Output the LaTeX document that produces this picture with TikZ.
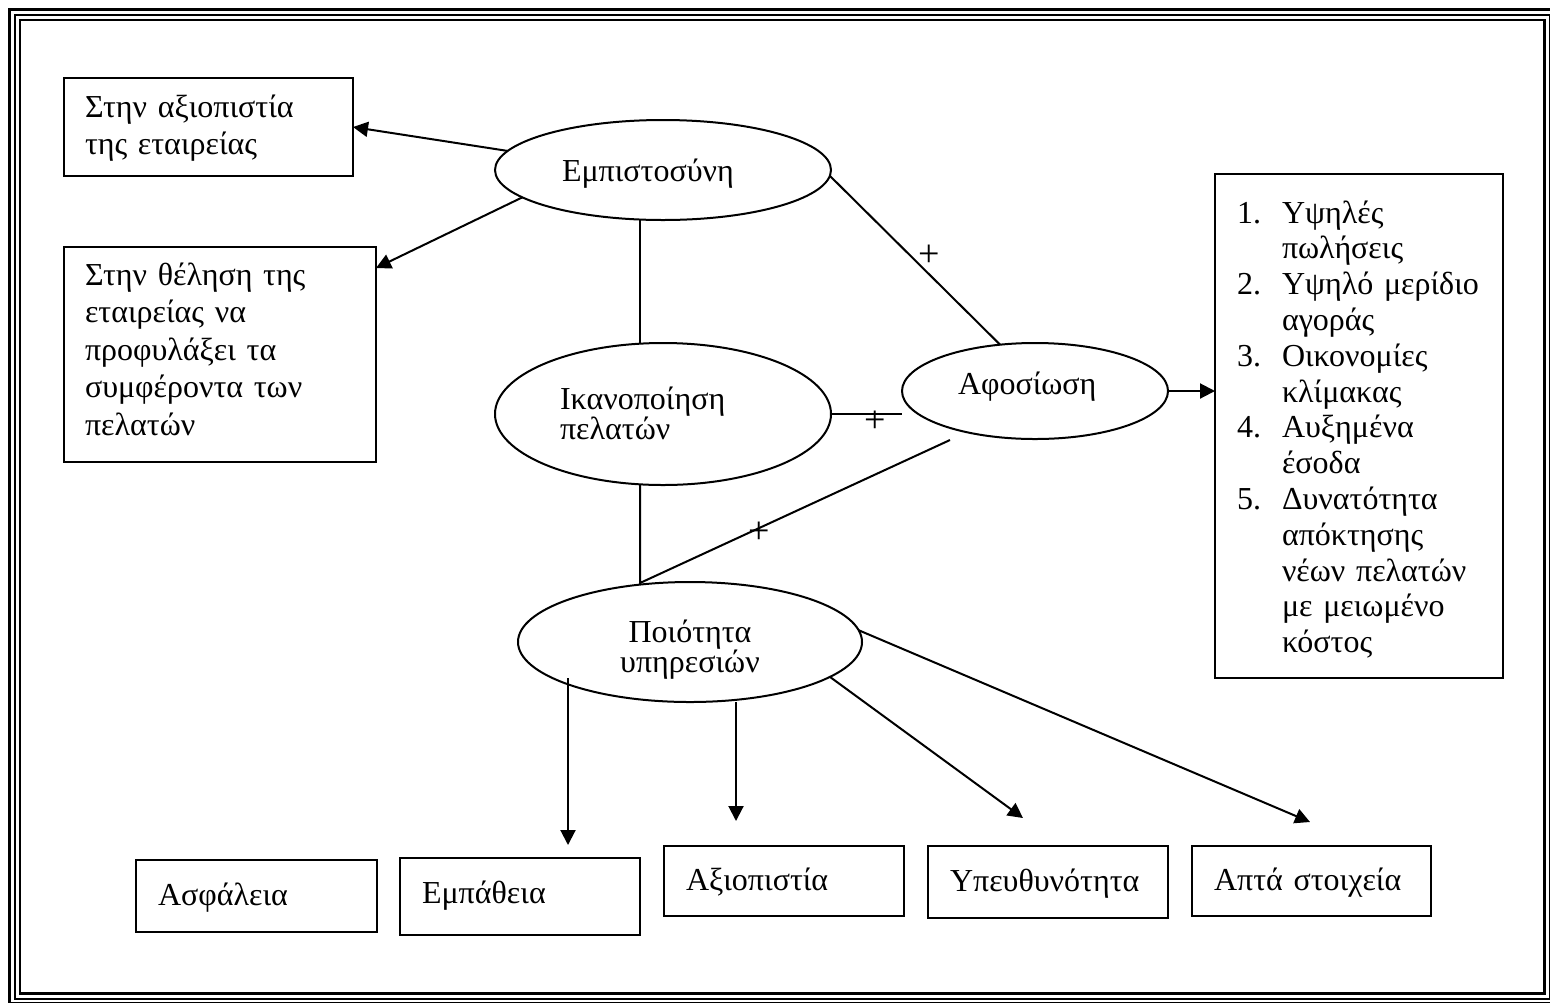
\documentclass[tikz,border=0pt]{standalone}
\usepackage{fontspec}
\setmainfont{Liberation Serif}
\usetikzlibrary{arrows.meta,shapes.geometric}
\begin{document}
\begin{tikzpicture}[x=0.5pt,y=-0.5pt,
  every node/.style={inner sep=0pt, outer sep=0pt},
  box/.style={draw, line width=1pt, anchor=north west},
  ell/.style={draw, ellipse, line width=1pt},
  txt/.style={anchor=base west, align=left, font=\fontsize{16pt}{18.75pt}\selectfont},
  ltxt/.style={anchor=base west, align=left, font=\fontsize{16pt}{17.9pt}\selectfont},
  etxt/.style={anchor=base west, align=left, font=\fontsize{16pt}{15.25pt}\selectfont},
  plus/.style={font=\fontsize{19pt}{20pt}\selectfont},
  conn/.style={line width=1pt},
  arr/.style={line width=1pt, -{Triangle[length=7.5pt,width=7.5pt]}},
]
\useasboundingbox (0,0) rectangle (1550,1002);
\begin{scope}
\clip (0,0) rectangle (1550,1002);
\draw[line width=1.5pt] (9.5,9.5) rectangle (1554,1003.5);
\draw[line width=1pt] (14.5,14.5) rectangle (1549.5,998.5);
\draw[line width=1.2pt] (20,20) rectangle (1544.5,993.5);
\end{scope}

% boxes
\node[box, minimum width=144.5pt, minimum height=49pt] (bA) at (64,78) {};
\node[box, minimum width=156pt, minimum height=107.5pt] (bB) at (64,247) {};
\node[box, minimum width=144pt, minimum height=252pt] (R) at (1215,174) {};
\node[box, minimum width=120.5pt, minimum height=36pt] (b1) at (136,860) {};
\node[box, minimum width=120pt, minimum height=38.5pt] (b2) at (400,858) {};
\node[box, minimum width=120pt, minimum height=35pt] (b3) at (664,846) {};
\node[box, minimum width=120pt, minimum height=36pt] (b4) at (928,846) {};
\node[box, minimum width=119.5pt, minimum height=35pt] (b5) at (1192,846) {};

% ellipses
\node[ell, minimum width=168pt, minimum height=50pt] (E) at (663,170) {};
\node[ell, minimum width=168pt, minimum height=71pt] (I) at (663,414) {};
\node[ell, minimum width=133pt, minimum height=48pt] (A) at (1035,391) {};
\node[ell, minimum width=172pt, minimum height=60pt] (P) at (690,642) {};

% texts
\node[txt, text width=140pt] (tA) at (85,117) {Στην αξιοπιστία\\της εταιρείας};
\node[txt, text width=145pt] (tB) at (85,285) {Στην θέληση της\\εταιρείας να\\προφυλάξει τα\\συμφέροντα των\\πελατών};
\node[ltxt, text width=140pt] (tR) at (1237,223) {\makebox[22.5pt][l]{1.}Υψηλές\\\hspace*{22.5pt}πωλήσεις\\
\makebox[22.5pt][l]{2.}Υψηλό μερίδιο\\\hspace*{22.5pt}αγοράς\\
\makebox[22.5pt][l]{3.}Οικονομίες\\\hspace*{22.5pt}κλίμακας\\
\makebox[22.5pt][l]{4.}Αυξημένα\\\hspace*{22.5pt}έσοδα\\
\makebox[22.5pt][l]{5.}Δυνατότητα\\\hspace*{22.5pt}απόκτησης\\\hspace*{22.5pt}νέων πελατών\\\hspace*{22.5pt}με μειωμένο\\\hspace*{22.5pt}κόστος};
\node[txt, text width=110pt] (t1) at (158,905) {Ασφάλεια};
\node[txt, text width=110pt] (t2) at (422,903) {Εμπάθεια};
\node[txt, text width=110pt] (t3) at (686,890) {Αξιοπιστία};
\node[txt, text width=110pt] (t4) at (950,891) {Υπευθυνότητα};
\node[txt, text width=110pt] (t5) at (1214,890) {Απτά στοιχεία};

\node[etxt, text width=120pt] (tE) at (562,181) {Εμπιστοσύνη};
\node[etxt, text width=120pt] (tI) at (560,409) {Ικανοποίηση\\πελατών};
\node[etxt, text width=100pt] (tAf) at (958,394) {Αφοσίωση};
\node[etxt, text width=120pt, anchor=base, align=center] (tP) at (690,642) {Ποιότητα\\υπηρεσιών};

% plus signs
\node[plus] (p1) at (929,256) {+};
\node[plus] (p2) at (875,422) {+};
\node[plus] (p3) at (759,533) {+};

% connectors
\draw[arr] (E.173) -- (bA.east);
\draw[arr] (E.191) -- (bB.29);
\draw[conn] ([xshift=-11.5pt]E.south) -- ([xshift=-11.5pt]I.north);
\draw[conn] (E.-2) -- (A.127);
\draw[conn] (I.east) -- (I.east -| A.west);
\draw[arr] (A.east) -- (A.east -| R.west);
\coordinate (j) at (640,583);
\coordinate (aEnd) at (950,440);
\draw[conn] ([xshift=-11.5pt]I.south) -- (j) -- (aEnd);
\coordinate (s1) at (568,678);
\coordinate (e1) at (568,845);
\coordinate (e2) at (736,821);
\coordinate (e3) at (1023,818);
\coordinate (e4) at (1310,822);
\draw[arr] (s1) -- (e1);
\draw[arr] ([xshift=23pt]P.south) -- (e2);
\draw[arr] (P.-14) -- (e3);
\draw[arr] (P.4) -- (e4);
\end{tikzpicture}
\end{document}
